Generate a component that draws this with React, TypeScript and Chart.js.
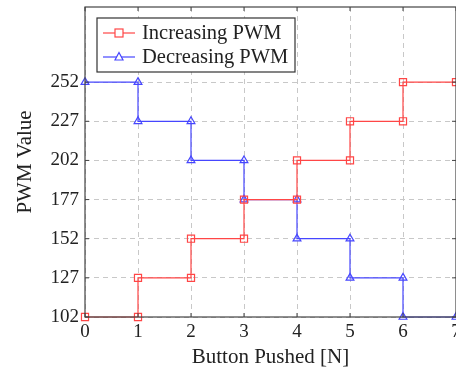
import React, { useEffect, useRef } from "react";
import { Chart, registerables } from "chart.js";

Chart.register(...registerables);

// Step positions: every press holds for one unit, then jumps
const stepX = [0, 1, 1, 2, 2, 3, 3, 4, 4, 5, 5, 6, 6, 7];
const increasingPwm = [102, 102, 127, 127, 152, 152, 177, 177, 202, 202, 227, 227, 252, 252];
const decreasingPwm = [252, 252, 227, 227, 202, 202, 177, 177, 152, 152, 127, 127, 102, 102];
const xTicks = [0, 1, 2, 3, 4, 5, 6, 7];
const yTicks = [102, 127, 152, 177, 202, 227, 252];

const seriesLabels = ["Increasing PWM", "Decreasing PWM"];
const RED = "rgb(255, 70, 70)";
const BLUE = "rgb(70, 70, 255)";
const FONT = "'Liberation Serif', 'DejaVu Serif', serif";

const framePlugin = {
  id: "frameAndLegend",
  afterDraw(chart: any) {
    const { ctx, chartArea: a, scales } = chart;
    ctx.save();
    // axis frame
    ctx.strokeStyle = "#444";
    ctx.lineWidth = 1.2;
    ctx.setLineDash([]);
    ctx.strokeRect(a.left, a.top, a.right - a.left, a.bottom - a.top);
    // small inward tick marks
    ctx.lineWidth = 1;
    xTicks.forEach((v) => {
      const px = scales.x.getPixelForValue(v);
      ctx.beginPath();
      ctx.moveTo(px, a.bottom);
      ctx.lineTo(px, a.bottom - 4);
      ctx.moveTo(px, a.top);
      ctx.lineTo(px, a.top + 4);
      ctx.stroke();
    });
    yTicks.forEach((v) => {
      const py = scales.y.getPixelForValue(v);
      ctx.beginPath();
      ctx.moveTo(a.left, py);
      ctx.lineTo(a.left + 4, py);
      ctx.moveTo(a.right, py);
      ctx.lineTo(a.right - 4, py);
      ctx.stroke();
    });

    // legend box
    const bx = a.left + 12;
    const by = a.top + 11;
    const bw = 198;
    const bh = 54;
    ctx.fillStyle = "#fff";
    ctx.fillRect(bx, by, bw, bh);
    ctx.strokeStyle = "#333";
    ctx.lineWidth = 1.2;
    ctx.strokeRect(bx, by, bw, bh);
    ctx.font = `20.5px ${FONT}`;
    ctx.textBaseline = "middle";
    chart.data.datasets.forEach((ds: any, i: number) => {
      const cy = by + 15 + i * 24;
      const lx0 = bx + 6;
      const lx1 = bx + 38;
      const mx = (lx0 + lx1) / 2;
      ctx.strokeStyle = ds.borderColor;
      ctx.lineWidth = 1.2;
      ctx.beginPath();
      ctx.moveTo(lx0, cy);
      ctx.lineTo(lx1, cy);
      ctx.stroke();
      ctx.fillStyle = "#fff";
      if (ds.pointStyle === "rect") {
        ctx.fillRect(mx - 4, cy - 4, 8, 8);
        ctx.strokeRect(mx - 4, cy - 4, 8, 8);
      } else {
        ctx.beginPath();
        ctx.moveTo(mx, cy - 4.5);
        ctx.lineTo(mx + 4, cy + 3);
        ctx.lineTo(mx - 4, cy + 3);
        ctx.closePath();
        ctx.fill();
        ctx.stroke();
      }
      ctx.fillStyle = "#222";
      ctx.fillText(ds.label, bx + 45, cy + 1);
    });
    ctx.restore();
  },
};

export default function App() {
  const ref = useRef<HTMLCanvasElement>(null);

  useEffect(() => {
    if (!ref.current) return;
    const chart = new Chart(ref.current, {
      type: "line",
      data: {
        datasets: [
          {
            label: seriesLabels[0],
            data: stepX.map((x, i) => ({ x, y: increasingPwm[i] })),
            borderColor: RED,
            backgroundColor: "rgba(255,255,255,0)",
            borderWidth: 1.2,
            pointStyle: "rect",
            pointRadius: 5,
            pointBorderWidth: 1.2,
            pointBorderColor: RED,
            pointBackgroundColor: "rgba(255,255,255,0)",
          },
          {
            label: seriesLabels[1],
            data: stepX.map((x, i) => ({ x, y: decreasingPwm[i] })),
            borderColor: BLUE,
            backgroundColor: "rgba(255,255,255,0)",
            borderWidth: 1.2,
            pointStyle: "triangle",
            pointRadius: 4.5,
            pointBorderWidth: 1.2,
            pointBorderColor: BLUE,
            pointBackgroundColor: "rgba(255,255,255,0)",
          },
        ],
      },
      options: {
        animation: false,
        responsive: false,
        clip: false,
        layout: { padding: { top: 7, right: 14, left: 0, bottom: 0 } },
        plugins: { legend: { display: false }, tooltip: { enabled: false } },
        scales: {
          x: {
            type: "linear",
            min: 0,
            max: 7,
            afterBuildTicks: (s: any) => {
              s.ticks = xTicks.map((v) => ({ value: v }));
            },
            afterFit: (s: any) => {
              s.height = 57;
              s.paddingLeft = 0;
              s.paddingRight = 0;
            },
            ticks: {
              color: "#222",
              font: { family: FONT, size: 19 },
              padding: 4,
              maxRotation: 0,
            },
            grid: { color: "#c8c8c8", lineWidth: 1, drawTicks: false },
            border: { display: false, dash: [5, 4] },
            title: {
              display: true,
              text: "Button Pushed [N]",
              color: "#222",
              font: { family: FONT, size: 21 },
              padding: { top: 3 },
            },
          },
          y: {
            type: "linear",
            min: 102,
            max: 300,
            afterBuildTicks: (s: any) => {
              s.ticks = yTicks.map((v) => ({ value: v }));
            },
            afterFit: (s: any) => {
              s.width = 85;
              s.paddingTop = 0;
              s.paddingBottom = 0;
            },
            ticks: {
              color: "#222",
              font: { family: FONT, size: 19 },
              padding: 6,
            },
            grid: { color: "#c8c8c8", lineWidth: 1, drawTicks: false },
            border: { display: false, dash: [5, 4] },
            title: {
              display: true,
              text: "PWM Value",
              color: "#222",
              font: { family: FONT, size: 21 },
              padding: { top: 13, bottom: 4 },
            },
          },
        },
      },
      plugins: [framePlugin],
    });
    return () => chart.destroy();
  }, []);

  return (
    <div
      style={{
        position: "fixed",
        left: 0,
        top: 0,
        width: 456,
        height: 374,
        overflow: "hidden",
        background: "#fff",
      }}
    >
      <canvas ref={ref} width={470} height={374} style={{ width: 470, height: 374 }} />
    </div>
  );
}
